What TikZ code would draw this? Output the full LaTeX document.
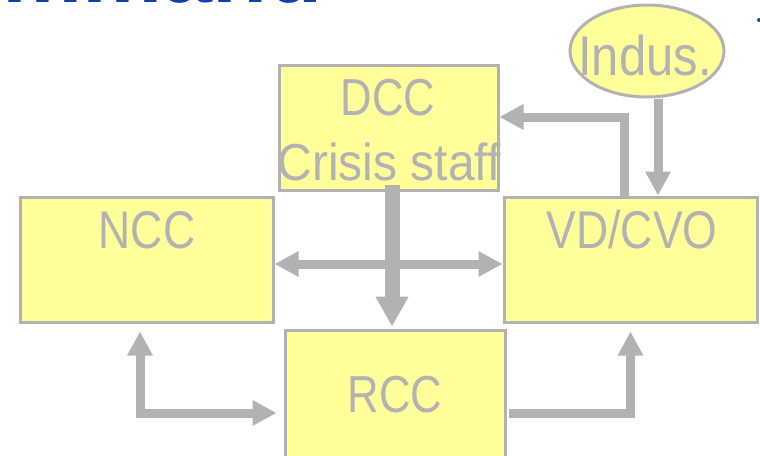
\documentclass[tikz,border=0pt]{standalone}
\usepackage{fontspec}
\setmainfont{Liberation Sans}[FakeStretch=0.84]
\newfontfamily\titlefont{Liberation Sans}
\usetikzlibrary{arrows.meta,calc,shapes.geometric}
\definecolor{ag}{RGB}{178,178,178}
\definecolor{boxyellow}{RGB}{255,255,153}
\definecolor{titleblue}{RGB}{16,64,176}
\definecolor{dotteal}{RGB}{20,90,100}
\tikzset{
  boxnode/.style={draw=ag, line width=3pt, fill=boxyellow, rectangle, inner sep=0pt},
  lbl/.style={text=ag, inner sep=0pt, anchor=base, font=\fontsize{53}{60}\selectfont},
  conn/.style={draw=ag, line width=9pt, line join=miter, -{Triangle[length=24pt,width=24pt]}},
  dconn/.style={draw=ag, line width=9pt, line join=miter, {Triangle[length=24pt,width=24pt]}-{Triangle[length=24pt,width=24pt]}},
  bigconn/.style={draw=ag, line width=15pt, -{Triangle[length=30pt,width=31pt]}}
}
\begin{document}
\begin{tikzpicture}[x=1pt,y=-1pt]
\useasboundingbox (0,0) rectangle (760,455);
\clip (0,0) rectangle (760,455);
\fill[white] (0,0) rectangle (760,455);
% title (cut off)
\node[anchor=base west, inner sep=0pt, text=titleblue, font=\titlefont\bfseries\fontsize{90}{90}\selectfont] (title) at (-118,2) {Command};
\fill[dotteal] (759,20) circle (2);
% boxes
\node[boxnode, minimum width=219pt, minimum height=125pt] (DCC) at (388.5,127.5) {};
\node[boxnode, minimum width=253pt, minimum height=125pt] (NCC) at (146.5,259.5) {};
\node[boxnode, minimum width=253pt, minimum height=125pt] (VD) at (630.5,259.5) {};
\node[boxnode, minimum width=220pt, minimum height=166pt] (RCC) at (395,413) {};
\node[draw=ag, line width=3pt, fill=boxyellow, ellipse, minimum width=154pt, minimum height=92pt, inner sep=0pt] (Indus) at (647,51) {};
% labels
\node[lbl, font=\fontsize{52}{60}\selectfont] (tDCC) at (388,115) {DCC};
\node[lbl, font=\fontsize{52}{60}\selectfont] (tCrisis) at (389,180) {\scalebox{1.1}[1]{Crisis staff}};
\node[lbl] (tNCC) at (147,248) {NCC};
\node[lbl] (tVD) at (632,248) {VD/CVO};
\node[lbl, font=\fontsize{52}{60}\selectfont] (tRCC) at (395,412) {RCC};
\node[lbl, font=\fontsize{56}{60}\selectfont] (tIndus) at (645,75) {\scalebox{1.04}[1]{Indus.}};
% connectors
\draw[dconn] ([yshift=-4.5pt]NCC.east) -- ([yshift=-4.5pt]VD.west);
\path (DCC.south) ++(3.5,-7) coordinate (da);
\draw[bigconn] (da) -- ([yshift=2pt]da |- RCC.north);
\draw[conn] ([xshift=-6.5pt]VD.north) |- ([yshift=10.5pt]DCC.east);
\path (Indus.south) ++(11,0) coordinate (ia);
\draw[conn] (ia) -- (ia |- VD.north);
\draw[dconn] ([xshift=-6.5pt,yshift=-8pt]NCC.south) |- ([xshift=-7pt]RCC.west);
\draw[conn] ([xshift=2pt]RCC.east) -| ([yshift=-8pt]VD.south);
\end{tikzpicture}
\end{document}
